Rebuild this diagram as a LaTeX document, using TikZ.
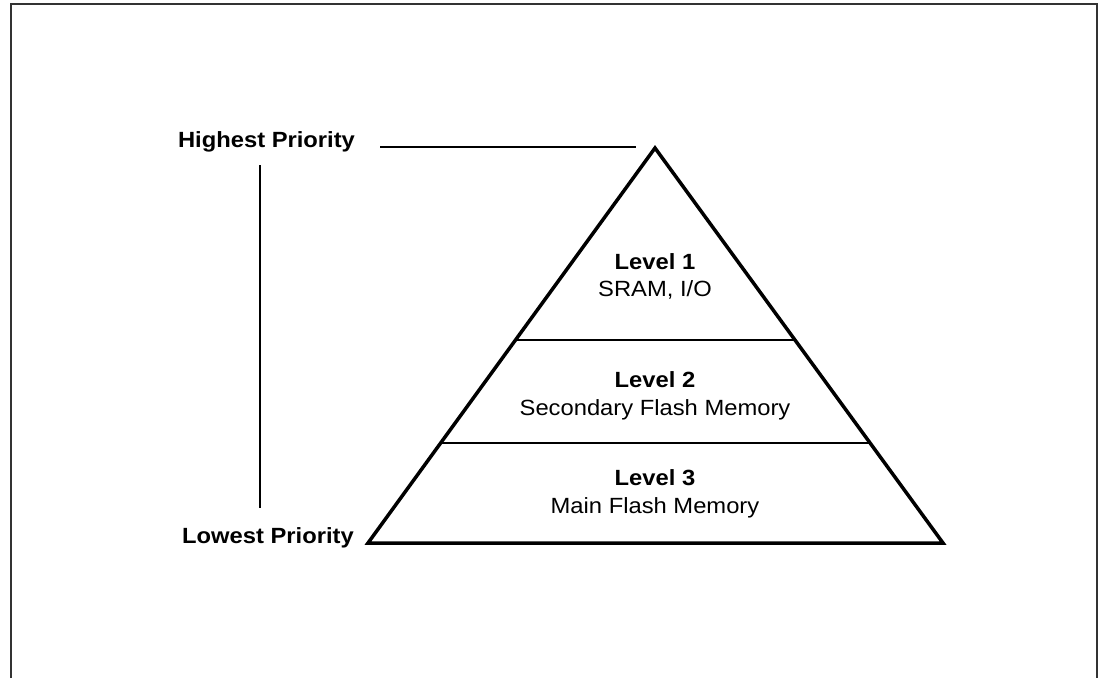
\documentclass[tikz,border=0pt]{standalone}
\usepackage{fontspec}
\setmainfont{Liberation Sans}[FakeStretch=1.08]
\usetikzlibrary{calc}
\begin{document}
\begin{tikzpicture}[x=1pt,y=-1pt,
  frame/.style={line width=2pt,draw=black!80},
  edge/.style={line width=3.5pt,line join=miter},
  divider/.style={line width=2.2pt},
  guide/.style={line width=2pt},
  bold/.style={font=\fontsize{22}{26}\selectfont\bfseries,inner sep=0pt,anchor=base},
  plain/.style={font=\fontsize{22}{26}\selectfont,inner sep=0pt,anchor=base}]
\useasboundingbox (0,0) rectangle (1104,678);
\draw[frame] (10.5,678) -- (10.5,3.5) -- (1097,3.5) -- (1097,678);
% pyramid
\coordinate (apex) at (655,148);
\coordinate (bl) at (368,543);
\coordinate (br) at (943,543);
\draw[edge] (apex) -- (br) -- (bl) -- cycle;
\coordinate (d1l) at ($(apex)!0.4861!(bl)$);
\coordinate (d1r) at ($(apex)!0.4861!(br)$);
\coordinate (d2l) at ($(apex)!0.7468!(bl)$);
\coordinate (d2r) at ($(apex)!0.7468!(br)$);
\draw[divider] (d1l) -- (d1r);
\draw[divider] (d2l) -- (d2r);
% level texts
\node[bold] (l1t) at (655,269) {Level 1};
\node[plain] (l1d) at (655,296) {SRAM, I/O};
\node[bold] (l2t) at (655,387) {Level 2};
\node[plain] (l2d) at (655,415) {Secondary Flash Memory};
\node[bold] (l3t) at (655,485) {Level 3};
\node[plain] (l3d) at (655,513) {Main Flash Memory};
% priority labels
\node[bold] (hi) at (266.5,147) {Highest Priority};
\node[bold] (lo) at (268,543) {Lowest Priority};
\coordinate (hlineL) at (380,147);
\coordinate (hlineR) at (636,147);
\draw[guide] (hlineL) -- (hlineR);
\coordinate (vtop) at (260,165);
\coordinate (vbot) at (260,508);
\draw[guide] (vtop) -- (vbot);
\end{tikzpicture}
\end{document}
